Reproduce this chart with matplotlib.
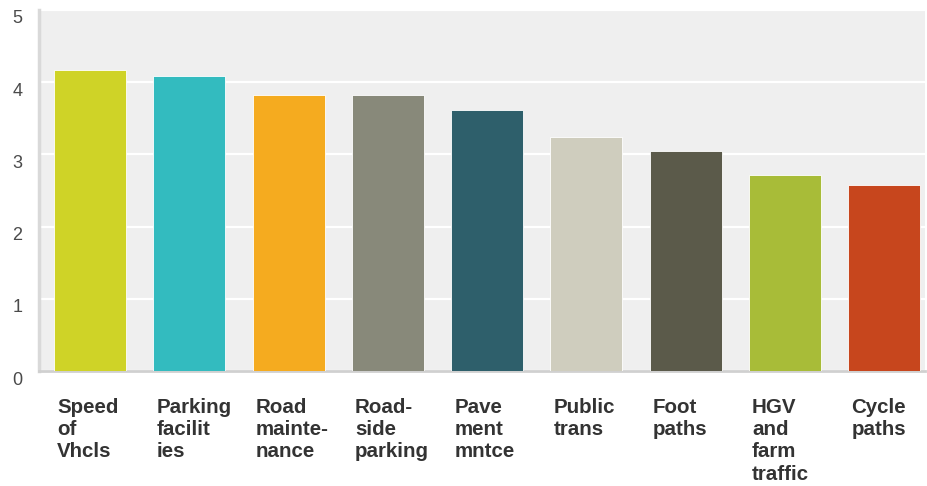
import matplotlib.pyplot as plt
from matplotlib.transforms import ScaledTranslation

categories = ["Speed\nof\nVhcls", "Parking\nfacilit\nies", "Road\nmainte-\nnance",
              "Road-\nside\nparking", "Pave\nment\nmntce", "Public\ntrans",
              "Foot\npaths", "HGV\nand\nfarm\ntraffic", "Cycle\npaths"]
scores = [4.17, 4.09, 3.82, 3.82, 3.62, 3.24, 3.05, 2.72, 2.57]
colors = ["#cfd327", "#33bbbf", "#f5ab1f", "#88897a", "#2e5f6b",
          "#cfcdbe", "#5b5a4a", "#a8bc38", "#c7461d"]

W, H = 927, 486
fig = plt.figure(figsize=(W / 100, H / 100), dpi=100)
ax = fig.add_axes([39 / W, (H - 371) / H, (925 - 39) / W, (371 - 10) / H])
ax.set_facecolor("#efefef")

x = range(len(scores))
bw = 0.725
ax.bar(x, scores, width=bw, color=colors, edgecolor="white", linewidth=0.6, zorder=3)

ax.set_xlim(-0.514, len(scores) - 1 + 0.41)
ax.set_ylim(0, 5)
ax.set_yticks(range(6))
ax.yaxis.grid(True, color="white", linewidth=1.6, zorder=0)
ax.set_axisbelow(True)
ax.tick_params(axis="y", length=0, pad=12, labelsize=13, labelcolor="#4a4a4a")
# tick numbers sit a little below their gridlines in the original
shift = ScaledTranslation(0, -7 / 100, fig.dpi_scale_trans)
for t in ax.get_yticklabels():
    t.set_family("Liberation Sans")
    t.set_transform(t.get_transform() + shift)
ax.set_xticks([])
for s in ["top", "right"]:
    ax.spines[s].set_visible(False)
ax.spines["left"].set_color("#d9d9d9")
ax.spines["left"].set_linewidth(2.5)
ax.spines["bottom"].set_color("#d0d0d0")
ax.spines["bottom"].set_linewidth(2)

for i, lab in enumerate(categories):
    ax.text(i - bw / 2 + 0.03, -0.074, lab, transform=ax.get_xaxis_transform(),
            ha="left", va="top", fontsize=14.8, fontweight="bold", color="#333333",
            family="Liberation Sans", linespacing=1.22)

fig.savefig("out.png", dpi=100)
